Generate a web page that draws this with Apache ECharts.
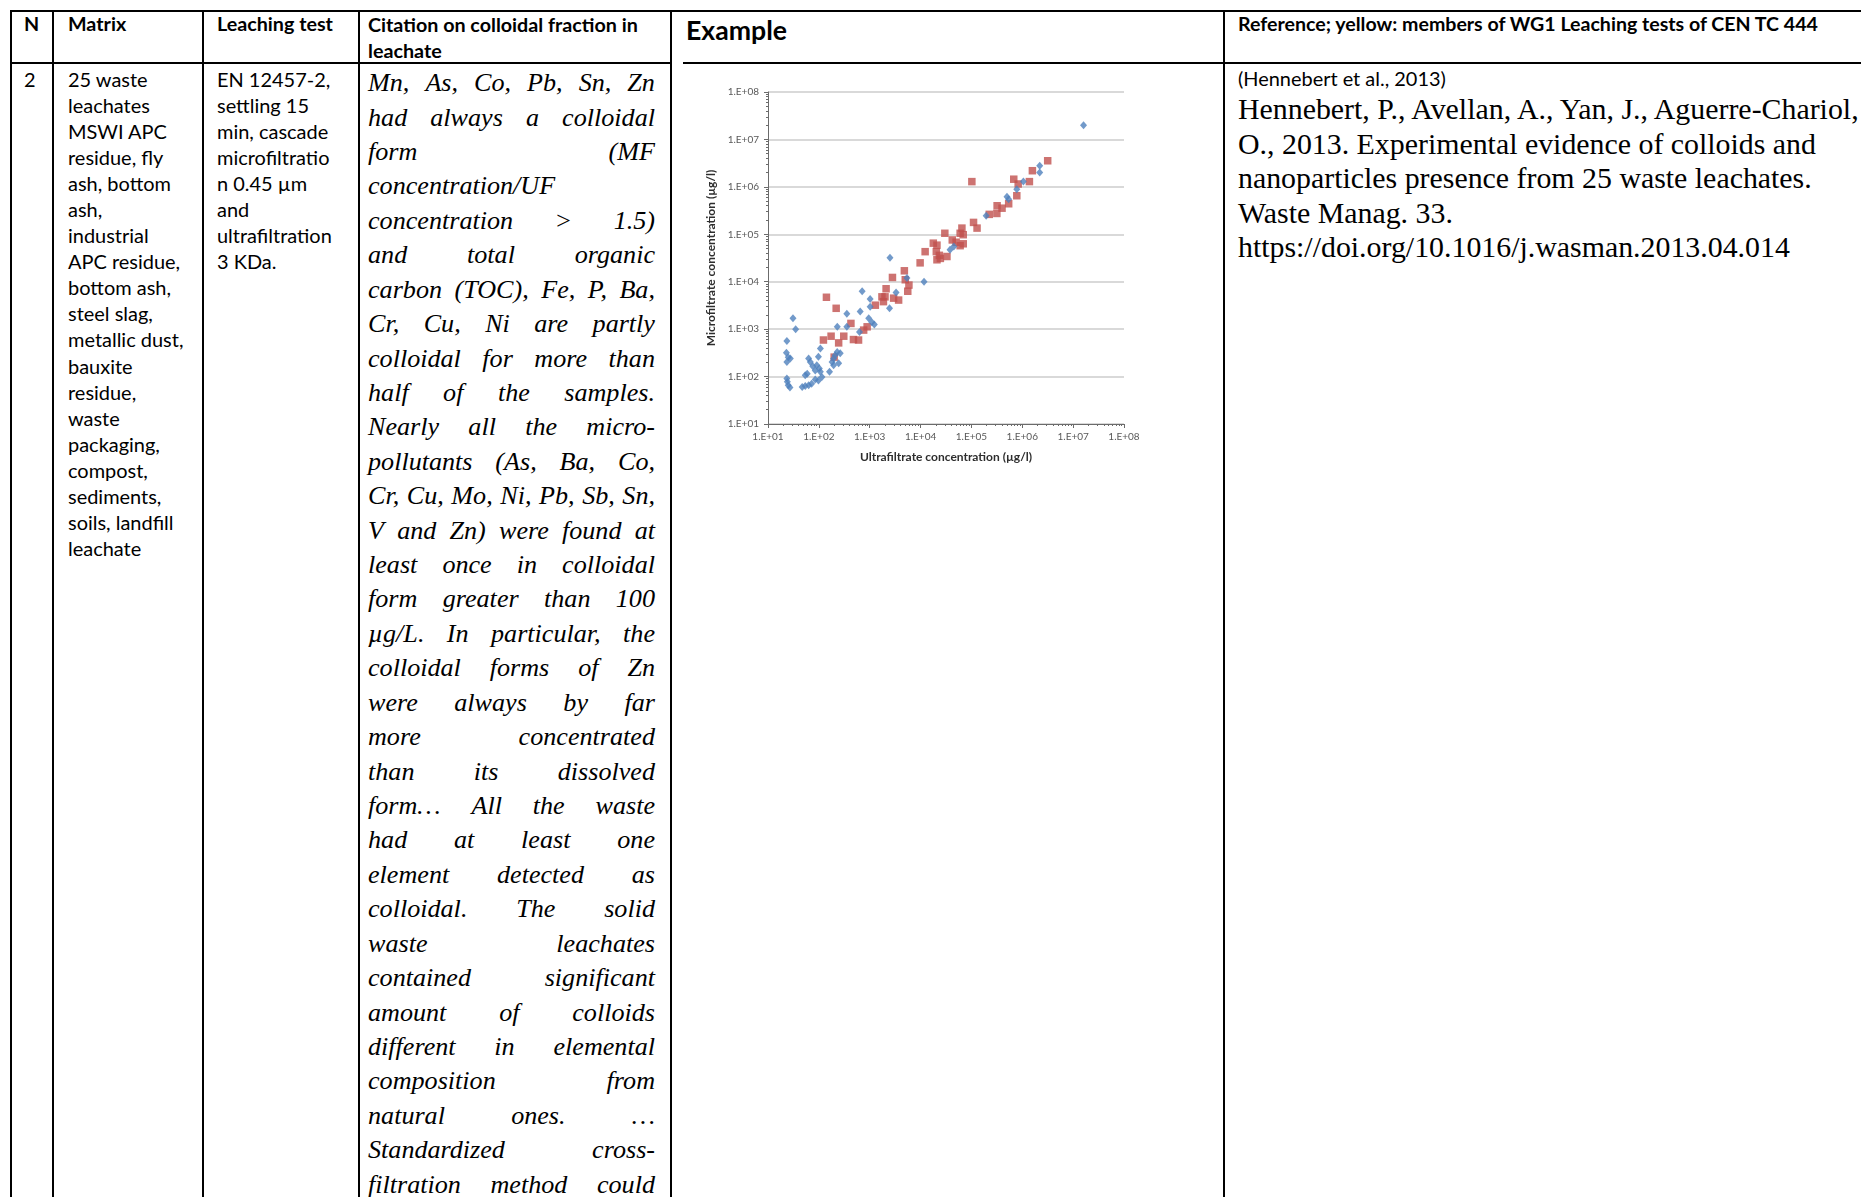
<!DOCTYPE html>
<html><head><meta charset="utf-8">
<script src="https://cdn.jsdelivr.net/npm/echarts@6.0.0/dist/echarts.min.js"></script>
<style>
html,body{margin:0;padding:0;background:#fff;width:1861px;height:1197px;overflow:hidden;position:relative}
.t{position:absolute;white-space:nowrap;color:#000;}
.sans{font-family:Lato,"Open Sans",sans-serif;}
.b{font-weight:bold}
.ser{font-family:"Liberation Serif",serif;}
.it{font-style:italic}
.hl{position:absolute;background:#000;}
.jl{position:absolute;display:flex;justify-content:space-between;white-space:nowrap;}
#chart{position:absolute;left:672px;top:64px;width:550px;height:480px;}
</style></head><body>
<div id="chart"></div>
<script>
// ---------- chart data (µg/l) ----------
const blueUF = [1.6e7,2.2e6,2.2e6,1.05e6,7.8e5,5.0e5,5.4e5,1.95e5,4.5e4,3.8e4,1.17e4,2.5e3,2.45e3,3.3e3,5.4e3,710,1020,1020,955,1100,1230,650,355,230,355,630,31,35,23.5,23,25,27.5,23.5,23.5,24,25,27,47,54,63,72,54,59,63,68,76,85,91,102,107,115,98,85,98,107,162,182,195,209,229,263,245,195];
const blueMF = [2.0e7,2.8e6,2.0e6,1.3e6,8.9e5,6.2e5,5.5e5,2.45e5,5.5e4,4.7e4,1.0e4,3.2e4,2.75e3,5.9e3,1.2e4,6300,4300,2950,1700,1400,1260,2350,2100,1120,1120,870,1700,1000,560,316,257,240,204,91,78,66,59,60,63,66,71,107,115,240,204,166,135,174,148,126,98,83,87,263,389,126,204,240,282,331,309,191,174];
const redUF = [1.02e5,3.16e6,1.58e6,1.38e6,6.8e5,8.3e5,7.8e5,5.4e5,4.0e5,3.2e5,3.16e5,2.24e5,1.1e5,1.29e5,6.5e4,6.0e4,6.9e4,3.0e4,4.2e4,5.0e4,6.0e4,6.9e4,1.78e4,2.1e4,2.04e4,2.34e4,2.45e4,3.3e4,2.1e4,1.23e4,9.8e3,4.8e3,5.0e3,5.9e3,5.6e3,2.8e3,2.1e3,1.74e3,2.0e3,2.95e3,3.7e3,1.86e3,1.29e3,141,219,427,760,890,123,174,245,309,479,603,200];
const redMF = [1.29e6,3.55e6,2.19e6,1.29e6,1.45e6,1.15e6,6.5e5,4.4e5,3.55e5,4.0e5,2.75e5,2.63e5,1.78e5,1.35e5,1.35e5,1.05e5,9.8e4,1.05e5,7.6e4,6.8e4,5.75e4,6.3e4,6.5e4,5.9e4,4.3e4,3.6e4,3.1e4,3.4e4,2.9e4,4.3e4,2.5e4,1.7e4,1.1e4,8.5e3,6.3e3,1.23e4,7.1e3,4.8e3,4.8e3,4.5e3,4.1e3,3.8e3,3.2e3,4700,2750,1320,955,1120,590,710,513,710,603,589,257];
const tickLabels = ['1.E+01','1.E+02','1.E+03','1.E+04','1.E+05','1.E+06','1.E+07','1.E+08'];
const xTitle = 'Ultrafiltrate concentration (µg/l)';
const yTitle = 'Microfiltrate concentration (µg/l)';

// ---------- table texts ----------
const headers = ['N','Matrix','Leaching test'];
const citHeader = ['Citation on colloidal fraction in','leachate'];
const exampleHeader = 'Example';
const refHeader = 'Reference; yellow: members of WG1 Leaching tests of CEN TC 444';
const matrixLines = ['25 waste','leachates','MSWI APC','residue, fly','ash, bottom','ash,','industrial','APC residue,','bottom ash,','steel slag,','metallic dust,','bauxite','residue,','waste','packaging,','compost,','sediments,','soils, landfill','leachate'];
const leachLines = ['EN 12457-2,','settling 15','min, cascade','microfiltratio','n 0.45 µm','and','ultrafiltration','3 KDa.'];
const citLines = ['Mn, As, Co, Pb, Sn, Zn','had always a colloidal','form (MF','concentration/UF','concentration > 1.5)','and total organic','carbon (TOC), Fe, P, Ba,','Cr, Cu, Ni are partly','colloidal for more than','half of the samples.','Nearly all the micro-','pollutants (As, Ba, Co,','Cr, Cu, Mo, Ni, Pb, Sb, Sn,','V and Zn) were found at','least once in colloidal','form greater than 100','µg/L. In particular, the','colloidal forms of Zn','were always by far','more concentrated','than its dissolved','form… All the waste','had at least one','element detected as','colloidal. The solid','waste leachates','contained significant','amount of colloids','different in elemental','composition from','natural ones. …','Standardized cross-','filtration method could'];
const refShort = '(Hennebert et al., 2013)';
const refLines = ['Hennebert, P., Avellan, A., Yan, J., Aguerre-Chariol,','O., 2013. Experimental evidence of colloids and','nanoparticles presence from 25 waste leachates.','Waste Manag. 33.','https://doi.org/10.1016/j.wasman.2013.04.014'];

function mk(txt, cls, left, cy, lh, fs){
  const d=document.createElement('div'); d.className='t '+cls; d.textContent=txt;
  d.style.left=left+'px'; d.style.top=(cy-lh/2)+'px'; d.style.lineHeight=lh+'px'; d.style.height=lh+'px'; d.style.fontSize=fs+'px';
  document.body.appendChild(d); return d;
}
function fit(els, ref, target){
  const w=ref.getBoundingClientRect().width; const fs=parseFloat(ref.style.fontSize);
  const nf=fs*target/w; els.forEach(e=>e.style.fontSize=nf+'px'); return nf;
}
function line(x,y,w,h){const d=document.createElement('div');d.className='hl';d.style.left=x+'px';d.style.top=y+'px';d.style.width=w+'px';d.style.height=h+'px';document.body.appendChild(d);}

// borders
line(9.5,10,1861,2);
line(9.5,62,662,2); line(683,62,1200,2);
[9.5,51.5,201.5,357.5,669.5,1222.7].forEach(x=>line(x,10,2,1200));

// headers
const hN=mk(headers[0],'sans b',24,24,26,20);
const hM=mk(headers[1],'sans b',68,24,26,20);
const hL=mk(headers[2],'sans b',217,24,26,20);
const hC1=mk(citHeader[0],'sans b',368,25,26,20);
const hC2=mk(citHeader[1],'sans b',368,51,26,20);
fit([hN,hM,hL,hC1,hC2],hL,116);
const hE=mk(exampleHeader,'sans b',686,30,30,26); fit([hE],hE,101);
const hR=mk(refHeader,'sans b',1238,24,26,20); fit([hR],hR,580);

// N col
const n2=mk('2','sans',24,79,26,20);
// matrix
const mEls=matrixLines.map((s,i)=>mk(s,'sans',68,79+i*26.05,26.05,20));
const lEls=leachLines.map((s,i)=>mk(s,'sans',217,79+i*26.05,26.05,20));
const nf=fit(mEls.concat(lEls),mEls[10],115.5);
n2.style.fontSize=nf+'px';

// citation: justified lines
(function(){
  const L=34.42, y0=83.4, left=368, width=287;
  const probe=mk(citLines[12],'ser it',0,-100,L,26);
  const probe2=mk(citLines[13],'ser it',0,-100,L,26);
  const w=Math.max(probe.getBoundingClientRect().width, probe2.getBoundingClientRect().width);
  const fs=26*(width-6)/w;
  probe.remove(); probe2.remove();
  citLines.forEach((s,i)=>{
    const d=document.createElement('div'); d.className='jl ser it';
    d.style.left=left+'px'; d.style.width=width+'px'; d.style.top=(y0+i*L-L/2)+'px';
    d.style.height=L+'px'; d.style.lineHeight=L+'px'; d.style.fontSize=fs+'px';
    s.split(' ').forEach(wd=>{const sp=document.createElement('span');sp.textContent=wd;d.appendChild(sp);});
    document.body.appendChild(d);
  });
})();

// reference column
const rs=mk(refShort,'sans',1238,78,26,18); fit([rs],rs,208);
const rEls=refLines.map((s,i)=>mk(s,'ser',1238,109.5+i*34.42,34.42,22));
fit(rEls,rEls[0],621);

// ---------- chart ----------
const fmt=v=>tickLabels[Math.round(Math.log10(v))-1];
const axisCol='#6b6b6b';
function mkAxis(isY){
  return {
    type:'log',logBase:10,min:10,max:1e8,splitNumber:7,
    name:isY?yTitle:xTitle,nameLocation:'middle',nameGap:isY?45:27,
    nameTextStyle:{fontFamily:'Lato',fontWeight:'bold',fontSize:12,color:'#2e2e2e'},
    axisLine:{show:true,lineStyle:{color:axisCol,width:1}},
    axisTick:{show:true,length:4,lineStyle:{color:axisCol}},
    minorTick:{show:true,splitNumber:9,length:2,lineStyle:{color:axisCol}},
    axisLabel:{formatter:fmt,fontFamily:'Lato',fontSize:10,color:'#595959',margin:isY?9:8},
    splitLine:{show:isY,lineStyle:{color:'#d9d9d9',width:2}},
    minorSplitLine:{show:false}
  };
}
const chart=echarts.init(document.getElementById('chart'));
chart.setOption({
  animation:false,
  grid:{left:96,top:28,width:356,height:332,containLabel:false},
  xAxis:mkAxis(false),
  yAxis:mkAxis(true),
  series:[
    {type:'scatter',symbol:'rect',symbolSize:7.5,itemStyle:{color:'#C0504D'},data:redUF.map((x,i)=>[x,redMF[i]])},
    {type:'scatter',symbol:'diamond',symbolSize:[7,8],itemStyle:{color:'#4F81BD'},data:blueUF.map((x,i)=>[x,blueMF[i]])}
  ]
});
</script>
</body></html>
